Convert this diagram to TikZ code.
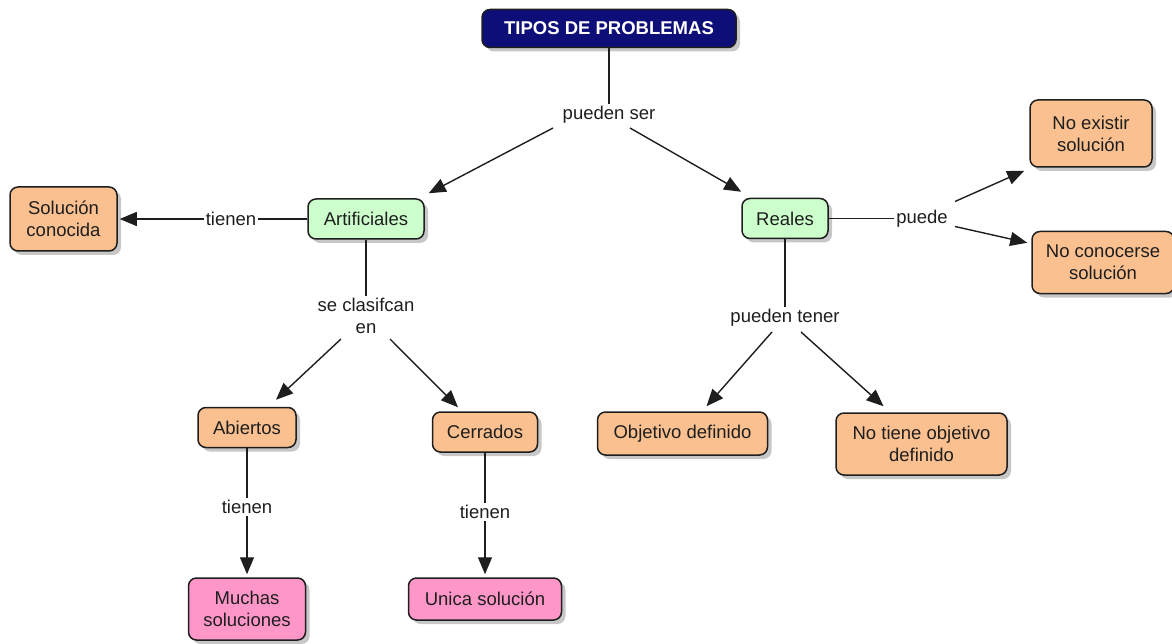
\documentclass[tikz,border=0pt]{standalone}
\usepackage{fontspec}
\setmainfont{Liberation Sans}
\usetikzlibrary{shadows,arrows.meta}
\definecolor{navy}{RGB}{14,14,120}
\definecolor{mint}{RGB}{204,255,204}
\definecolor{peach}{RGB}{250,192,144}
\definecolor{rose}{RGB}{255,150,200}
\definecolor{ink}{RGB}{30,30,30}
\tikzset{
  concept/.style={draw=ink, line width=1.5pt, rounded corners=8pt, align=center,
    text=ink, inner sep=2pt,
    drop shadow={shadow xshift=4pt, shadow yshift=-4pt, fill=black!22, opacity=1},
    font=\fontsize{18.5}{22}\selectfont},
  linkword/.style={fill=white, inner sep=2pt, align=center, text=ink,
    font=\fontsize{18.5}{22}\selectfont},
  conn/.style={draw=ink, line width=1.4pt},
  arr/.style={conn, -{Triangle[length=17pt,width=14pt]}},
}
\begin{document}
\begin{tikzpicture}[x=1pt, y=-1pt]
\useasboundingbox (0,0) rectangle (1172,644);

% concepts
\node[concept, fill=navy, text=white, font=\bfseries\fontsize{18.5}{22}\selectfont,
      minimum width=254pt, minimum height=38pt] (tipos) at (609,28.5) {TIPOS DE PROBLEMAS};
\node[concept, fill=mint, minimum width=116pt, minimum height=40pt] (art) at (366,219) {Artificiales};
\node[concept, fill=mint, minimum width=86pt, minimum height=40pt] (reales) at (785,218.5) {Reales};
\node[concept, fill=peach, minimum width=107pt, minimum height=64pt] (solcon) at (63.5,219) {Solución\\conocida};
\node[concept, fill=peach, minimum width=122pt, minimum height=67pt] (noex) at (1091,133.5) {No existir\\solución};
\node[concept, fill=peach, minimum width=142pt, minimum height=62pt] (nocon) at (1103,262.5) {No conocerse\\solución};
\node[concept, fill=peach, minimum width=98pt, minimum height=40pt] (abiertos) at (247,427.5) {Abiertos};
\node[concept, fill=peach, minimum width=105pt, minimum height=40pt] (cerrados) at (485,432) {Cerrados};
\node[concept, fill=peach, minimum width=170pt, minimum height=43pt] (objetivo) at (682.5,433.5) {Objetivo definido};
\node[concept, fill=peach, minimum width=171pt, minimum height=62pt] (notiene) at (921.5,444) {No tiene objetivo\\definido};
\node[concept, fill=rose, minimum width=117pt, minimum height=62pt] (muchas) at (247,609) {Muchas\\soluciones};
\node[concept, fill=rose, minimum width=153pt, minimum height=42pt] (unica) at (485,599) {Unica solución};

% linking phrases
\node[linkword] (l1) at (609,115) {pueden ser};
\node[linkword] (t1) at (231,219) {tienen};
\node[linkword] (lc) at (366,316) {se clasifcan\\en};
\node[linkword] (t2) at (247,507) {tienen};
\node[linkword] (t3) at (485,512) {tienen};
\node[linkword] (lt) at (785,318) {pueden tener};
\node[linkword] (lp) at (922,218.5) {puede};

% connectors
\draw[conn] (tipos.south) -- (l1.north);
\draw[arr] ([shift={(-56,13)}]l1.center) -- ([shift={(4,-5)}]art.north east);
\draw[arr] ([shift={(21,13)}]l1.center) -- ([shift={(0,-6)}]reales.north west);

\draw[conn] (art.west) -- (t1.east);
\draw[arr, shorten >=2pt] (t1.west) -- (solcon.east);

\draw[conn] (art.south) -- (lc.north);
\draw[arr] ([shift={(-25,23)}]lc.center) -- ([shift={(29,-7)}]abiertos.north);
\draw[arr] ([shift={(24,23)}]lc.center) -- ([shift={(-27,-4)}]cerrados.north);

\draw[conn] (abiertos.south) -- (t2.north);
\draw[arr, shorten >=3pt] (t2.south) -- (muchas.north);
\draw[conn] (cerrados.south) -- (t3.north);
\draw[arr, shorten >=3pt] (t3.south) -- (unica.north);

\draw[conn] (reales.south) -- (lt.north);
\draw[arr] ([shift={(-13,14)}]lt.center) -- ([shift={(24,-5)}]objetivo.north);
\draw[arr] ([shift={(16,14)}]lt.center) -- ([shift={(-38,-6)}]notiene.north);

\draw[conn] (reales.east) -- (lp.west);
\draw[arr] ([shift={(33,-17)}]lp.center) -- ([shift={(-5,3)}]noex.south west);
\draw[arr] ([shift={(33,8)}]lp.center) -- ([shift={(-4,12)}]nocon.north west);
\end{tikzpicture}
\end{document}
